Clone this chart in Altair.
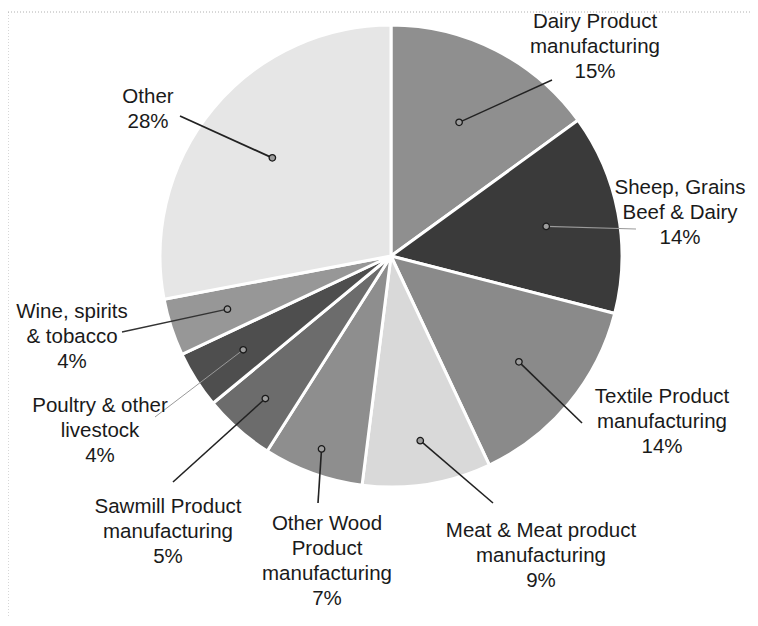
import math
import altair as alt
import pandas as pd

# ---- data ----
categories = [
    "Dairy Product manufacturing",
    "Sheep, Grains Beef & Dairy",
    "Textile Product manufacturing",
    "Meat & Meat product manufacturing",
    "Other Wood Product manufacturing",
    "Sawmill Product manufacturing",
    "Poultry & other livestock",
    "Wine, spirits & tobacco",
    "Other",
]
shares = [15, 14, 14, 9, 7, 5, 4, 4, 28]
label_text = [
    "Dairy Product\nmanufacturing",
    "Sheep, Grains\nBeef & Dairy",
    "Textile Product\nmanufacturing",
    "Meat & Meat product\nmanufacturing",
    "Other Wood\nProduct\nmanufacturing",
    "Sawmill Product\nmanufacturing",
    "Poultry & other\nlivestock",
    "Wine, spirits\n& tobacco",
    "Other",
]

# ---- layout / style (page pixels, plot origin at page (8, 8)) ----
OFF = 8
CX, CY, R = 391 - OFF, 256 - OFF, 231
slice_gray = ["#8f8f8f", "#3a3a3a", "#8a8a8a", "#d9d9d9", "#8e8e8e",
              "#6c6c6c", "#4e4e4e", "#979797", "#e6e6e6"]
dot_radius = [150, 158, 166, 187, 205, 190, 175, 172, 154]
label_x = [595, 680, 662, 541, 327, 168, 100, 72, 148]
label_y = [28, 194, 403, 537, 530, 513, 412, 318, 103]
leader_x = [552, 636, 582, 493, 318, 173, 155, 122, 180]
leader_y = [80, 229, 423, 503, 503, 482, 417, 332, 116]
leader_color = ["#222222", "#9a9a9a", "#222222", "#222222", "#222222",
                "#222222", "#9a9a9a", "#333333", "#222222"]
leader_width = [1.4, 1.2, 1.6, 1.6, 1.6, 1.6, 1.0, 1.4, 1.8]

df = pd.DataFrame({
    "category": categories,
    "share": shares,
    "label": [t + "\n" + f"{s}%" for t, s in zip(label_text, shares)],
    "r": dot_radius,
    "tx": [v - OFF for v in label_x],
    "ty": [v - OFF for v in label_y],
    "lx": [v - OFF for v in leader_x],
    "ly": [v - OFF for v in leader_y],
    "lcolor": leader_color,
    "lw": leader_width,
})
df["end"] = df["share"].cumsum()
df["start"] = df["end"] - df["share"]
df["mid"] = (df["start"] + df["end"]) / 2

base = alt.Chart(df)

arcs = base.mark_arc(radius=R, stroke="white", strokeWidth=3).encode(
    theta=alt.Theta("start:Q", stack=None,
                    scale=alt.Scale(domain=[0, 100], range=[0, 2 * math.pi])),
    theta2="end:Q",
    color=alt.Color("category:N",
                    scale=alt.Scale(domain=categories, range=slice_gray),
                    legend=None),
    x=alt.value(CX),
    y=alt.value(CY),
)

polar = base.transform_calculate(
    dot_x=f"{CX} + datum.r * sin(datum.mid / 100 * 2 * PI)",
    dot_y=f"{CY} - datum.r * cos(datum.mid / 100 * 2 * PI)",
)

leaders = polar.mark_rule().encode(
    x=alt.X("dot_x:Q", scale=None, axis=None),
    y=alt.Y("dot_y:Q", scale=None, axis=None),
    x2="lx:Q",
    y2="ly:Q",
    color=alt.Color("lcolor:N", scale=None),
    strokeWidth=alt.StrokeWidth("lw:Q", scale=None),
)

dots = polar.mark_point(shape="circle", filled=True, size=42,
                        fill="#9c9c9c", stroke="#1a1a1a",
                        strokeWidth=1.3, opacity=1).encode(
    x=alt.X("dot_x:Q", scale=None, axis=None),
    y=alt.Y("dot_y:Q", scale=None, axis=None),
)

labels = base.mark_text(align="center", baseline="alphabetic",
                        lineBreak="\n", lineHeight=25,
                        font="Liberation Sans", fontSize=20.5,
                        color="#1a1a1a").encode(
    x=alt.X("tx:Q", scale=None, axis=None),
    y=alt.Y("ty:Q", scale=None, axis=None),
    text="label:N",
)

frame_df = pd.DataFrame({"k": [0]})
frame_top = alt.Chart(frame_df).mark_rule(color="#b0b0b0", strokeDash=[1, 2]).encode(
    x=alt.value(0), x2=alt.value(742), y=alt.value(12 - OFF))
frame_left = alt.Chart(frame_df).mark_rule(color="#b0b0b0", strokeDash=[1, 2]).encode(
    x=alt.value(0), y=alt.value(12 - OFF), y2=alt.value(610))

chart = alt.layer(frame_top, frame_left, arcs, leaders, dots, labels).properties(
    width=742, height=610, padding=0, autosize="none",
    background="white",
).configure_view(stroke=None)

chart.save("out.html", embed_options={"renderer": "svg", "actions": False})
